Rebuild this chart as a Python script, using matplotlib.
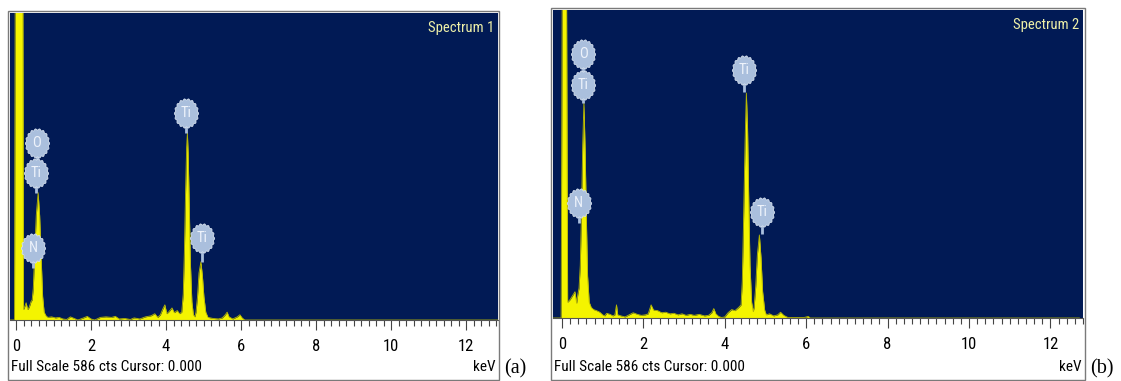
import matplotlib as mpl
mpl.use('Agg')
import matplotlib.pyplot as plt
import numpy as np
from matplotlib.path import Path
from matplotlib.patches import Rectangle
from matplotlib import font_manager

# EDS spectra, energy (keV) / counts
energy_a = [-0.16, -0.04, -0.02, 0.18, 0.20, 0.23, 0.27, 0.31, 0.35, 0.40, 0.43, 0.46, 0.50, 0.54, 0.59,
            0.63, 0.67, 0.71, 0.75, 0.80, 0.85, 0.95, 1.05, 1.15, 1.25, 1.35, 1.45, 1.55, 1.65, 1.80,
            1.90, 2.00, 2.10, 2.25, 2.40, 2.55, 2.65, 2.75, 2.90, 3.05, 3.15, 3.30, 3.45, 3.60, 3.70,
            3.78, 3.85, 3.92, 3.97, 4.02, 4.08, 4.16, 4.22, 4.30, 4.36, 4.42, 4.46, 4.49, 4.52, 4.55,
            4.57, 4.59, 4.62, 4.65, 4.69, 4.73, 4.77, 4.80, 4.84, 4.88, 4.93, 4.97, 5.01, 5.06, 5.12,
            5.25, 5.40, 5.50, 5.58, 5.63, 5.68, 5.78, 5.90, 5.97, 6.03, 6.10, 12.85]
counts_a = [0, 0, 700, 700, 20, 25, 33, 20, 24, 35, 38, 60, 130, 200, 243,
            200, 120, 45, 15, 8, 5, 6, 4, 5, 2, 1, 6, 3, 0, 4,
            7, 2, 0, 5, 6, 5, 7, 2, 3, 1, 4, 2, 6, 8, 12,
            5, 10, 22, 29, 12, 16, 23, 14, 18, 12, 15, 50, 130, 240, 330,
            357, 320, 220, 110, 35, 10, 6, 15, 45, 90, 111, 85, 45, 15, 5,
            3, 2, 4, 10, 15, 6, 2, 6, 10, 4, 0, 0]

energy_b = [-0.22, -0.02, 0.01, 0.11, 0.14, 0.20, 0.24, 0.28, 0.32, 0.36, 0.39, 0.42, 0.45, 0.48, 0.51,
            0.54, 0.57, 0.60, 0.63, 0.67, 0.72, 0.78, 0.85, 0.93, 1.00, 1.05, 1.10, 1.18, 1.25, 1.30,
            1.34, 1.37, 1.45, 1.55, 1.65, 1.75, 1.85, 1.95, 2.05, 2.12, 2.19, 2.25, 2.35, 2.45, 2.55,
            2.65, 2.75, 2.85, 2.95, 3.05, 3.15, 3.25, 3.37, 3.50, 3.60, 3.68, 3.73, 3.78, 3.85, 3.92,
            4.00, 4.08, 4.17, 4.25, 4.34, 4.40, 4.43, 4.46, 4.50, 4.53, 4.56, 4.59, 4.62, 4.66, 4.70,
            4.72, 4.76, 4.80, 4.85, 4.89, 4.93, 4.98, 5.02, 5.10, 5.20, 5.30, 5.37, 5.45, 5.55, 5.70,
            5.85, 5.95, 6.05, 6.10, 12.71]
counts_b = [0, 0, 700, 700, 30, 35, 40, 45, 50, 28, 45, 57, 100, 200, 330,
            410, 320, 190, 80, 30, 20, 16, 14, 11, 6, 4, 9, 7, 4, 6,
            25, 6, 4, 2, 6, 10, 7, 5, 6, 8, 25, 15, 14, 10, 11,
            8, 9, 6, 8, 5, 7, 5, 7, 4, 5, 10, 18, 8, 3, 1,
            2, 10, 16, 14, 20, 25, 70, 180, 340, 428, 360, 220, 100, 30, 12,
            20, 60, 120, 158, 115, 50, 15, 6, 8, 4, 6, 11, 5, 1, 1,
            1, 1, 3, 0, 0]

# peak labels: text, energy, counts of marker centre, counts where the stem ends
labels_a = [('O', 0.55, 338, 300), ('Ti', 0.53, 281, 243), ('N', 0.45, 137, 100),
            ('Ti', 4.53, 395, 357), ('Ti', 4.96, 157, 111)]
labels_b = [('O', 0.52, 503, 465), ('Ti', 0.52, 443, 410), ('N', 0.41, 218, 180),
            ('Ti', 4.48, 471, 430), ('Ti', 4.91, 201, 160)]

# narrow sans like the instrument software uses, if one is there
names = set(f.name for f in font_manager.fontManager.ttflist)
narrow = 'Liberation Sans'
for cand in ['Liberation Sans Narrow', 'Arial Narrow', 'Roboto Condensed', 'Archivo Narrow']:
    if cand in names:
        narrow = cand
        break
small = 12 if narrow != 'Liberation Sans' else 10

W, H = 1121, 381
navy = '#011a55'
yellow = '#f4f400'
badge = '#aabfdd'

# scalloped oval badge marker
t = np.linspace(0, 2*np.pi, 200)
r = 1 + 0.05*np.cos(18*t)
badge_path = Path(np.column_stack([0.82*r*np.cos(t), r*np.sin(t)]))

fig = plt.figure(figsize=(W/100, H/100), dpi=100)


def panel(box, blue, x0_px, kev_px, energy, counts, labels, title, tag):
    # outer grey frame
    bx0, by0, bx1, by1 = box
    fig.patches.append(Rectangle((bx0/W, 1-by1/H), (bx1-bx0)/W, (by1-by0)/H, transform=fig.transFigure,
                                 facecolor='none', edgecolor='#7a7a7a', lw=1.0, zorder=5))
    x0, y0, x1, y1 = blue
    ax = fig.add_axes([x0/W, 1-y1/H, (x1-x0)/W, (y1-y0)/H])
    ax.set_facecolor(navy)
    ax.set_xlim((x0-x0_px)/kev_px, (x1-x0_px)/kev_px)
    ax.set_ylim(0, 586)
    ax.fill_between(energy, counts, 0, color=yellow, lw=0)
    ax.plot(energy, counts, color='#b8b800', lw=0.6)
    for name, e, c, c_end in labels:
        ax.plot([e, e], [c, c_end], color=badge, lw=2.0, solid_capstyle='butt')
        ax.plot(e, c, marker=badge_path, markersize=21, color=badge, mec='#d5e0ee', mew=0.6)
        ax.text(e, c, name, color='#eef3fb', fontsize=10.5, ha='center', va='center', family=narrow)
    ax.text(0.992, 0.975, title, transform=ax.transAxes, color='#eef0a8', fontsize=10.5,
            ha='right', va='top', family=narrow)
    for s in ['left', 'right', 'top']:
        ax.spines[s].set_visible(False)
    ax.spines['bottom'].set_color('#555555')
    ax.set_yticks([])
    ax.set_xticks(np.arange(0, 13, 2))
    ax.set_xticks(np.arange(0, 12.9, 0.2), minor=True)
    ax.tick_params(axis='x', which='major', direction='out', length=7, width=0.8, color='#444444',
                   pad=7, labelsize=small)
    ax.tick_params(axis='x', which='minor', direction='out', length=4, width=0.8, color='#444444')
    for lab in ax.get_xticklabels():
        lab.set_family(narrow)
    fig.text((x0+1)/W, 1-367/H, 'Full Scale 586 cts Cursor: 0.000', fontsize=small - 1, family=narrow,
             ha='left', va='center')
    fig.text((x1-2)/W, 1-367/H, 'keV', fontsize=small - 1, family=narrow, ha='right', va='center')
    fig.text((bx1+5)/W, 1-369/H, tag, fontsize=14.5, family='Liberation Serif', ha='left', va='center')
    return ax


panel((8, 11, 499, 380), (10, 13, 498, 320), 16, 37.5, energy_a, counts_a, labels_a,
      'Spectrum 1', '(a)')
panel((551, 8, 1085, 380), (553, 10, 1083, 318), 562, 41.0, energy_b, counts_b, labels_b,
      'Spectrum 2', '(b)')

fig.savefig('out.png', dpi=100)
